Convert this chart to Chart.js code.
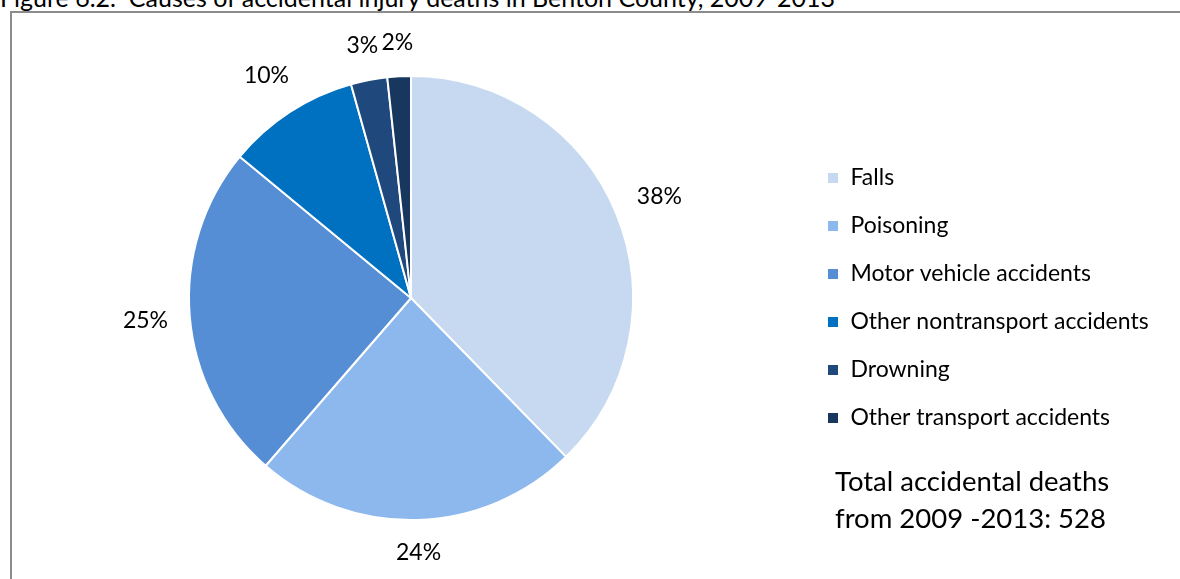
<!DOCTYPE html>
<html>
<head>
<meta charset="utf-8">
<script src="https://cdn.jsdelivr.net/npm/chart.js@4/dist/chart.umd.min.js"></script>
<style>
  body { margin: 0; background: #fff; overflow: hidden; }
  #wrap { position: relative; width: 1180px; height: 579px; overflow: hidden; font-family: Lato, sans-serif; color: #000; }
  #title { position: absolute; left: 0; top: -18px; font-size: 25px; white-space: nowrap; }
  #frame { position: absolute; left: 10px; top: 11px; width: 1200px; height: 600px; border: 2px solid #8c8c8c; box-sizing: border-box; }
  #total { position: absolute; left: 835px; top: 462px; font-size: 27.5px; line-height: 37px; }
  canvas { position: absolute; left: 0; top: 0; }
</style>
</head>
<body>
<div id="wrap">
  <div id="title">Figure 6.2.&nbsp; Causes of accidental injury deaths in Benton County, 2009-2013</div>
  <div id="frame"></div>
  <canvas id="pieChart" width="1180" height="579"></canvas>
  <div id="total">Total accidental deaths<br>from 2009 -2013: 528</div>
</div>
<script>
const causes = ['Falls', 'Poisoning', 'Motor vehicle accidents', 'Other nontransport accidents', 'Drowning', 'Other transport accidents'];
const deaths = [199, 125, 130, 51, 14, 9];
const sliceColors = ['#C6D9F1', '#8DB8EE', '#558ED5', '#0070C0', '#1F497D', '#17375E'];

const fontFamily = 'Lato, sans-serif';
const fontSize = 23;
const legendPad = 48 - fontSize;
const boxSize = 12;
const legendX = 827;   // left edge of the legend swatches
const pieCenterX = 411;

// percent labels placed just outside each slice
const outsideLabels = {
  id: 'outsideLabels',
  afterDatasetsDraw(chart) {
    const ctx = chart.ctx;
    const meta = chart.getDatasetMeta(0);
    const data = chart.data.datasets[0].data;
    const total = data.reduce((a, b) => a + b, 0);
    ctx.save();
    ctx.font = fontSize + 'px ' + fontFamily;
    ctx.fillStyle = '#000';
    ctx.textAlign = 'center';
    ctx.textBaseline = 'middle';
    meta.data.forEach((arc, i) => {
      const p = arc.getProps(['x', 'y', 'startAngle', 'endAngle', 'outerRadius'], true);
      const mid = (p.startAngle + p.endAngle) / 2;
      const text = Math.round(data[i] / total * 100) + '%';
      const w = ctx.measureText(text).width;
      const c = Math.cos(mid), s = Math.sin(mid);
      const ext = Math.abs(c) * w / 2 + Math.abs(s) * fontSize / 2;
      const r = p.outerRadius + 21 + ext;
      ctx.fillText(text, p.x + c * r, p.y + s * r);
    });
    ctx.restore();
  }
};

// paddings so the legend column starts at legendX and the pie stays centred on pieCenterX
const mctx = document.createElement('canvas').getContext('2d');
mctx.font = fontSize + 'px ' + fontFamily;
const textW = Math.max(...causes.map(t => mctx.measureText(t).width));
const legendW = legendPad + boxSize + fontSize / 2 + textW + 10;
const areaRight = legendX - legendPad;
const rightPad = 1180 - areaRight - legendW;
const leftPad = 2 * pieCenterX - areaRight;

const ctx1 = document.getElementById('pieChart').getContext('2d');
const pieChart = new Chart(ctx1, {
  type: 'pie',
  data: {
    labels: causes,
    datasets: [{
      data: deaths,
      backgroundColor: sliceColors,
      borderColor: '#ffffff',
      borderWidth: 2
    }]
  },
  options: {
    responsive: false,
    animation: false,
    devicePixelRatio: 1,
    layout: {
      padding: { left: leftPad, top: 75, bottom: 58, right: rightPad }
    },
    plugins: {
      legend: {
        position: 'right',
        align: 'center',
        labels: {
          boxWidth: boxSize,
          boxHeight: boxSize,
          padding: legendPad,
          color: '#000',
          font: { family: fontFamily, size: fontSize }
        }
      },
      tooltip: { enabled: false }
    }
  },
  plugins: [outsideLabels]
});
</script>
</body>
</html>
